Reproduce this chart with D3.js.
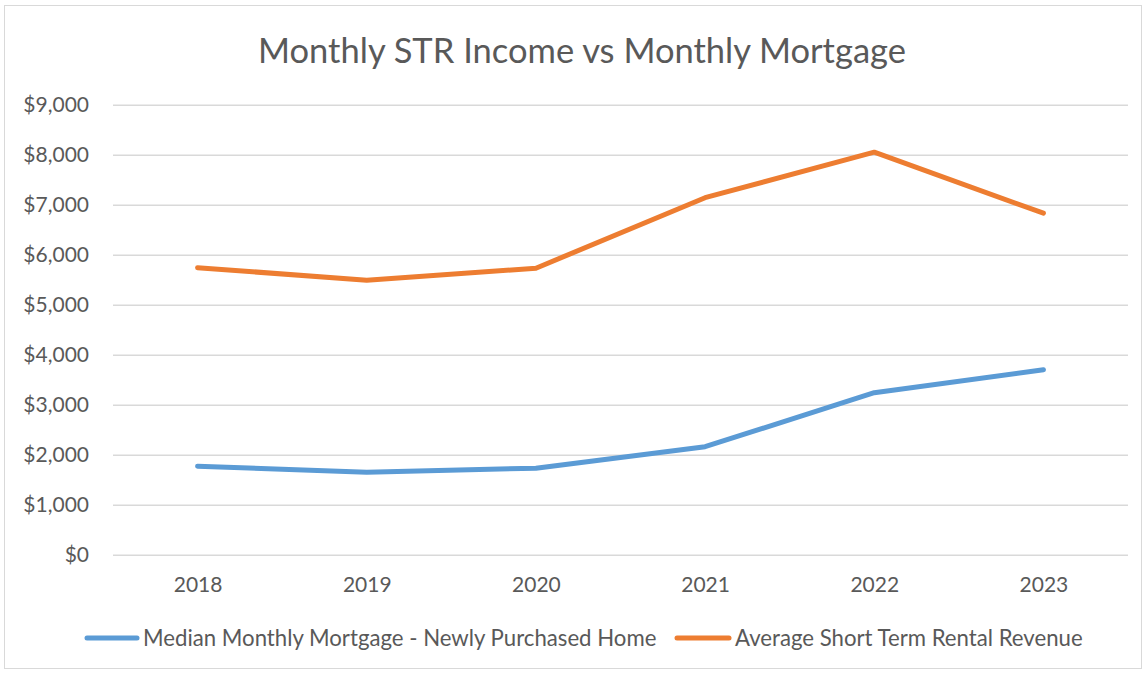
<!DOCTYPE html>
<html><head><meta charset="utf-8">
<script src="https://cdn.jsdelivr.net/npm/d3@7"></script>
<style>body{margin:0;background:#fff;} svg{display:block;font-family:Lato, "Open Sans", sans-serif;}</style>
</head><body>
<svg id="c" width="1147" height="675"></svg>
<script>
const years = ["2018","2019","2020","2021","2022","2023"];
const mortgage = [1770, 1650, 1730, 2160, 3240, 3700];
const strRevenue = [5740, 5490, 5730, 7140, 8050, 6830];
const yTicks = [0,1000,2000,3000,4000,5000,6000,7000,8000,9000];
const seriesNames = ["Median Monthly Mortgage - Newly Purchased Home","Average Short Term Rental Revenue"];
const colors = ["#5B9BD5","#ED7D31"];

(function(){
const svg = d3.select("#c");
svg.append("rect").attr("x",4.5).attr("y",5.5).attr("width",1137).attr("height",663)
  .attr("fill","#fff").attr("stroke","#d9d9d9").attr("stroke-width",1);

const pL=113, pR=1128, pT=104.7, pB=554.7;
const x = d3.scalePoint().domain(years).range([pL,pR]).padding(0.5);
const y = d3.scaleLinear().domain([0,9000]).range([pB,pT]);

svg.append("text").attr("x",582).attr("y",63).attr("text-anchor","middle")
  .attr("font-size",34.5).attr("fill","#595959").text("Monthly STR Income vs Monthly Mortgage");

const yAxis = d3.axisLeft(y).tickValues(yTicks).tickSize(-(pR-pL)).tickPadding(24)
  .tickFormat(d=>"$"+d3.format(",")(d));
const gy = svg.append("g").attr("transform",`translate(${pL},0)`).call(yAxis);
gy.select(".domain").remove();
gy.selectAll("line").attr("stroke","#d9d9d9").attr("stroke-width",1.5);
gy.selectAll("text").attr("fill","#595959").attr("font-size",21).attr("font-family","Lato, 'Open Sans', sans-serif");

const xAxis = d3.axisBottom(x).tickSize(0).tickPadding(22);
const gx = svg.append("g").attr("transform",`translate(0,${pB})`).call(xAxis);
gx.select(".domain").remove();
gx.selectAll("text").attr("fill","#595959").attr("font-size",21).attr("font-family","Lato, 'Open Sans', sans-serif");

const line = d3.line().x((d,i)=>x(years[i])).y(d=>y(d));
[mortgage,strRevenue].forEach((s,k)=>{
  svg.append("path").datum(s).attr("d",line).attr("fill","none")
    .attr("stroke",colors[k]).attr("stroke-width",5).attr("stroke-linecap","round").attr("stroke-linejoin","round");
});

const legend = [{x1:87,x2:137,tx:143},{x1:677,x2:729,tx:735}];
legend.forEach((l,k)=>{
  svg.append("line").attr("x1",l.x1).attr("x2",l.x2).attr("y1",638).attr("y2",638)
    .attr("stroke",colors[k]).attr("stroke-width",5).attr("stroke-linecap","round");
  svg.append("text").attr("x",l.tx).attr("y",646).attr("font-size",22.2).attr("fill","#595959").text(seriesNames[k]);
});
})();
</script>
</body></html>
